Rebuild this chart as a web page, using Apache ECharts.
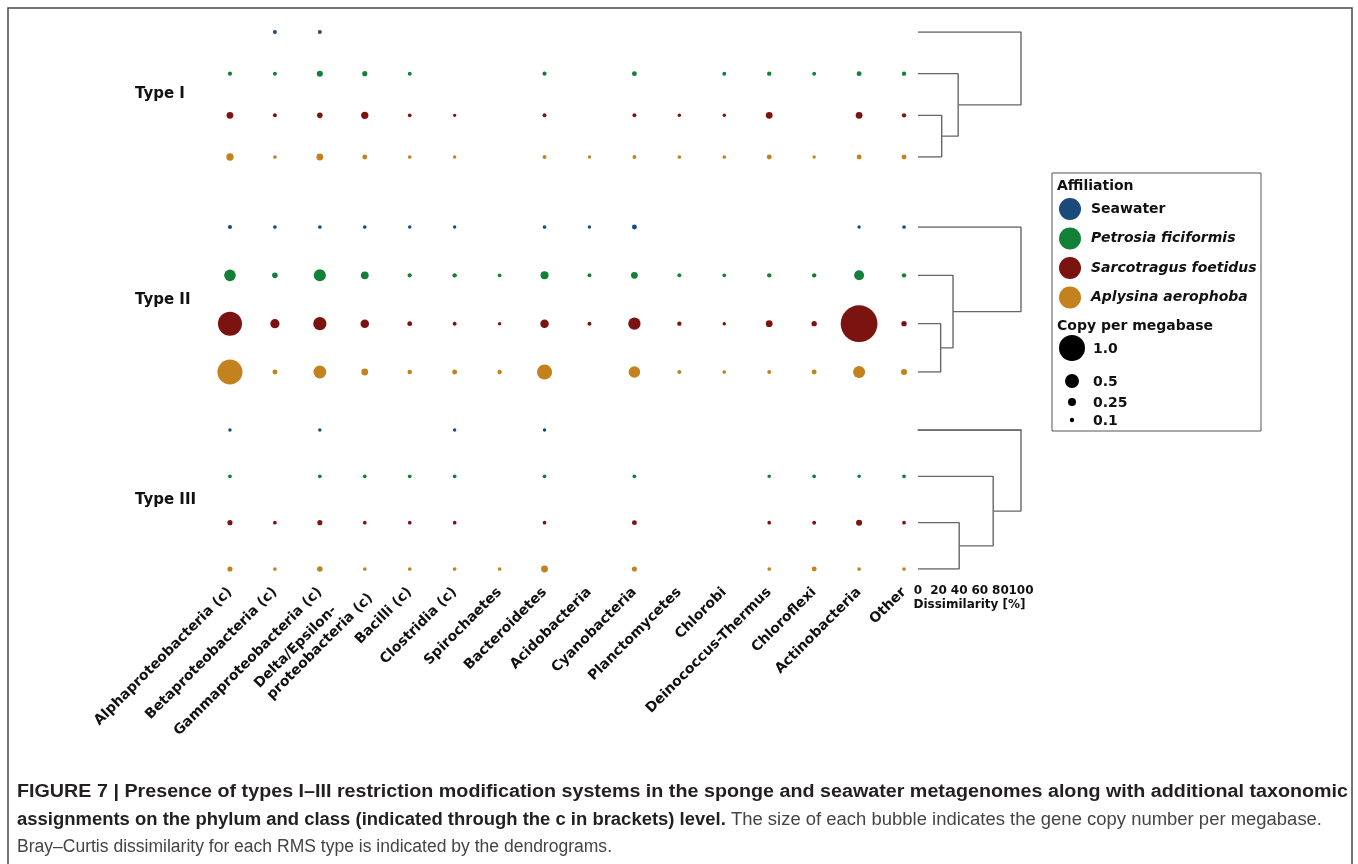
<!DOCTYPE html>
<html><head><meta charset="utf-8">
<script src="https://cdn.jsdelivr.net/npm/echarts@6/dist/echarts.min.js"></script>
<style>html,body{margin:0;padding:0;background:#fff}#c{width:1358px;height:864px}</style>
</head><body><div id="c"></div>
<script>
// ---------- DATA ----------
const categories = ['Alphaproteobacteria (c)','Betaproteobacteria (c)','Gammaproteobacteria (c)',
  'Delta/Epsilon-\u00a0\u00a0\u00a0\u00a0\u00a0\u00a0\u00a0\nproteobacteria (c)','Bacilli (c)','Clostridia (c)','Spirochaetes',
  'Bacteroidetes','Acidobacteria','Cyanobacteria','Planctomycetes','Chlorobi','Deinococcus-Thermus',
  'Chloroflexi','Actinobacteria','Other'];
const affiliations = ['Seawater','Petrosia ficiformis','Sarcotragus foetidus','Aplysina aerophoba'];
const typeNames = ['Type I','Type II','Type III'];

// copy per megabase (0 = absent)
const typeI_seawater  = [0,0.08,0.08,0,0,0,0,0,0,0,0,0,0,0,0,0];
const typeI_petrosia  = [0.09,0.08,0.17,0.13,0.08,0,0,0.09,0,0.12,0,0.08,0.1,0.08,0.12,0.1];
const typeI_sarco     = [0.2,0.08,0.15,0.22,0.07,0.05,0,0.08,0,0.08,0.06,0.06,0.2,0,0.2,0.1];
const typeI_aplysina  = [0.22,0.07,0.2,0.12,0.07,0.06,0,0.08,0.06,0.08,0.07,0.07,0.12,0.06,0.12,0.12];

const typeII_seawater = [0.09,0.07,0.07,0.07,0.06,0.06,0,0.07,0.06,0.12,0,0,0,0,0.06,0.07];
const typeII_petrosia = [0.4,0.15,0.42,0.24,0.09,0.1,0.07,0.25,0.08,0.2,0.08,0.07,0.1,0.1,0.33,0.1];
const typeII_sarco    = [0.92,0.3,0.47,0.27,0.12,0.08,0.06,0.27,0.08,0.43,0.1,0.06,0.2,0.14,1.45,0.14];
const typeII_aplysina = [0.96,0.12,0.45,0.2,0.1,0.12,0.1,0.55,0,0.4,0.09,0.07,0.08,0.12,0.42,0.17];

const typeIII_seawater = [0.06,0,0.06,0,0,0.06,0,0.06,0,0,0,0,0,0,0,0];
const typeIII_petrosia = [0.07,0,0.07,0.07,0.07,0.07,0,0.07,0,0.07,0,0,0.06,0.07,0.06,0.07];
const typeIII_sarco    = [0.13,0.07,0.13,0.07,0.07,0.07,0,0.07,0,0.12,0,0,0.07,0.08,0.17,0.07];
const typeIII_aplysina = [0.13,0.07,0.15,0.07,0.07,0.07,0.07,0.2,0,0.13,0,0,0.07,0.12,0.07,0.07];

// Bray-Curtis merge heights [%]: (Sarco,Aplysina), +Petrosia, +Seawater
const dendroTypeI   = [23, 39, 100];
const dendroTypeII  = [22, 34, 100];
const dendroTypeIII = [40, 73, 100];
const dissimilarityTicks = [0, 20, 40, 60, 80, 100];

const sizeKeys = [1.0, 0.5, 0.25, 0.1];
const sizeKeyLabels = ['1.0', '0.5', '0.25', '0.1'];

// ---------- STYLE / LAYOUT ----------
const colors = ['#1a4a7a', '#138038', '#7b1410', '#c4821f'];
const FONT = 'DejaVu Sans';
const CAP = '"Liberation Sans", Arial, sans-serif';
const typeData = [
  [typeI_seawater, typeI_petrosia, typeI_sarco, typeI_aplysina],
  [typeII_seawater, typeII_petrosia, typeII_sarco, typeII_aplysina],
  [typeIII_seawater, typeIII_petrosia, typeIII_sarco, typeIII_aplysina]
];
const dendros = [dendroTypeI, dendroTypeII, dendroTypeIII];
const bands = [{top: 32, height: 125}, {top: 227, height: 145}, {top: 430, height: 139}];
const typeLabelY = [94, 300, 500];
const sizeOf = v => 2 + 24 * v;
const dAxisOffset = 14;

const grid = [], xAxis = [], yAxis = [], series = [];
bands.forEach(b => grid.push({left: 207.5, width: 719, top: b.top, height: b.height}));
bands.forEach(b => grid.push({left: 918, width: 103, top: b.top, height: b.height}));
// bubble axes
bands.forEach((b, t) => {
  const last = t === 2;
  xAxis.push({
    type: 'category', gridIndex: t, data: categories, boundaryGap: true,
    show: last,
    axisLine: {show: false}, axisTick: {show: false}, splitLine: {show: false},
    axisLabel: {show: last, interval: 0, rotate: 45, margin: 21, fontFamily: FONT,
      fontWeight: 'bold', fontSize: 14, lineHeight: 17, color: '#111'}
  });
  yAxis.push({type: 'category', gridIndex: t, data: affiliations, boundaryGap: false,
    inverse: true, show: false});
});
// dendrogram axes
bands.forEach((b, t) => {
  const last = t === 2;
  xAxis.push({
    type: 'value', gridIndex: 3 + t, min: 0, max: 100, interval: 20, show: last,
    offset: dAxisOffset,
    axisLine: {show: true, lineStyle: {color: '#777', width: 1.5}},
    axisTick: {show: false}, splitLine: {show: false},
    axisLabel: {show: false},
    name: 'Dissimilarity [%]', nameLocation: 'middle', nameGap: 16,
    nameTextStyle: {fontFamily: FONT, fontWeight: 'bold', fontSize: 12, color: '#111',
      verticalAlign: 'top'}
  });
  yAxis.push({type: 'value', gridIndex: 3 + t, min: 0, max: 3, inverse: true, show: false});
});

// bubbles
typeData.forEach((rows, t) => {
  rows.forEach((vals, a) => {
    series.push({
      type: 'scatter', name: affiliations[a], xAxisIndex: t, yAxisIndex: t, clip: false,
      data: vals.map((v, i) => v > 0 ? [i, a, v] : null).filter(d => d),
      symbolSize: d => sizeOf(d[2]),
      itemStyle: {color: colors[a], opacity: 1},
      emphasis: {disabled: true}, silent: true
    });
  });
});

// dendrograms
function dendroPaths(h) {
  const [h1, h2, h3] = h;
  const yA = (2 + 3) / 2, yB = (1 + yA) / 2;
  return [
    [[0, 2], [h1, 2], [h1, 3], [0, 3]],
    [[0, 1], [h2, 1], [h2, yA], [h1, yA]],
    [[0, 0], [h3, 0], [h3, yB], [h2, yB]]
  ];
}
dendros.forEach((h, t) => {
  dendroPaths(h).forEach(p => {
    series.push({
      type: 'line', xAxisIndex: 3 + t, yAxisIndex: 3 + t, data: p, symbol: 'none',
      lineStyle: {color: '#666', width: 1.4}, silent: true, z: 1
    });
  });
});

// caption fitting
const mctx = document.createElement('canvas').getContext('2d');
function tw(font, s) { mctx.font = font; return mctx.measureText(s).width; }
const capBold = 'bold 18px ' + CAP, capReg = '18px ' + CAP;
const cap1 = 'FIGURE 7 | Presence of types I\u2013III restriction modification systems in the sponge and seawater metagenomes along with additional taxonomic';
const cap2b = 'assignments on the phylum and class (indicated through the c in brackets) level.';
const cap2r = ' The size of each bubble indicates the gene copy number per megabase.';
const cap3 = 'Bray\u2013Curtis dissimilarity for each RMS type is indicated by the dendrograms.';
const clamp = s => Math.max(0.75, Math.min(1.2, s));
const s1 = clamp(1331 / tw(capBold, cap1));
const s2 = clamp(1305 / (tw(capBold, cap2b) + tw(capReg, cap2r)));
const s3 = clamp(595 / tw(capReg, cap3));
const richCap = {
  b: {fontFamily: CAP, fontSize: 18, fontWeight: 'bold', fill: '#231f20'},
  r: {fontFamily: CAP, fontSize: 18, fill: '#444'}
};

const graphic = [
  {type: 'rect', z: -1, shape: {x: 8, y: 8, width: 1344, height: 900},
    style: {fill: 'none', stroke: '#4a4a4a', lineWidth: 1.5}},
  {type: 'rect', shape: {x: 1052, y: 173, width: 209, height: 258},
    style: {fill: '#fff', stroke: '#555', lineWidth: 1}, z: 0},
  {type: 'text', x: 1057, y: 186, style: {text: 'Affiliation', fontFamily: FONT, fontWeight: 'bold',
    fontSize: 14, fill: '#111', verticalAlign: 'middle'}},
  {type: 'text', x: 1057, y: 326, style: {text: 'Copy per megabase', fontFamily: FONT, fontWeight: 'bold',
    fontSize: 14, fill: '#111', verticalAlign: 'middle'}},
  {type: 'text', x: 17, y: 792, scaleX: s1, style: {text: cap1, font: capBold, fill: '#231f20', verticalAlign: 'middle'}},
  {type: 'text', x: 17, y: 820, scaleX: s2, style: {text: '{b|' + cap2b + '}{r|' + cap2r + '}', rich: richCap, verticalAlign: 'middle'}},
  {type: 'text', x: 17, y: 847, scaleX: s3, style: {text: cap3, font: capReg, fill: '#444', verticalAlign: 'middle'}}
];
const keyY = [348, 381, 402, 420];
sizeKeys.forEach((v, i) => {
  graphic.push({type: 'circle', z: 5, shape: {cx: 1072, cy: keyY[i], r: sizeOf(v) / 2}, style: {fill: '#000'}});
  graphic.push({type: 'text', z: 5, x: 1093, y: keyY[i] + 1, style: {text: sizeKeyLabels[i], fontFamily: FONT,
    fontWeight: 'bold', fontSize: 14, fill: '#111', verticalAlign: 'middle'}});
});
typeNames.forEach((n, t) => {
  graphic.push({type: 'text', x: 135, y: typeLabelY[t], style: {text: n, fontFamily: FONT, fontWeight: 'bold',
    fontSize: 15, fill: '#111', verticalAlign: 'middle'}});
});

const chart = echarts.init(document.getElementById('c'), null, {renderer: 'canvas'});
chart.setOption({
  animation: false,
  backgroundColor: '#fff',
  grid, xAxis, yAxis, series, graphic,
  legend: {
    data: affiliations, orient: 'vertical', left: 1059, top: 198, itemWidth: 22, itemHeight: 22,
    itemGap: 7.5, icon: 'circle', selectedMode: false, z: 6, padding: 0,
    textStyle: {fontFamily: FONT, fontWeight: 'bold', fontSize: 14, color: '#111', padding: [0, 0, 0, 5],
      rich: {i: {fontFamily: FONT, fontWeight: 'bold', fontStyle: 'italic', fontSize: 14, color: '#111'}}},
    formatter: n => n === 'Seawater' ? n : '{i|' + n + '}'
  }
});

// dissimilarity tick labels positioned through the axis scale (all labels kept, as in the figure)
const lastBand = bands[2];
const axisY = lastBand.top + lastBand.height + dAxisOffset;
const tickLabels = dissimilarityTicks.map((v, i) => {
  const px = chart.convertToPixel({xAxisIndex: 5}, v);
  return {type: 'text', id: 'dtick' + i, x: px, y: axisY + 2, style: {text: String(v), fontFamily: FONT,
    fontWeight: 'bold', fontSize: 12, fill: '#111', align: 'center', verticalAlign: 'top'}};
});
chart.setOption({graphic: graphic.concat(tickLabels)});
</script></body></html>
